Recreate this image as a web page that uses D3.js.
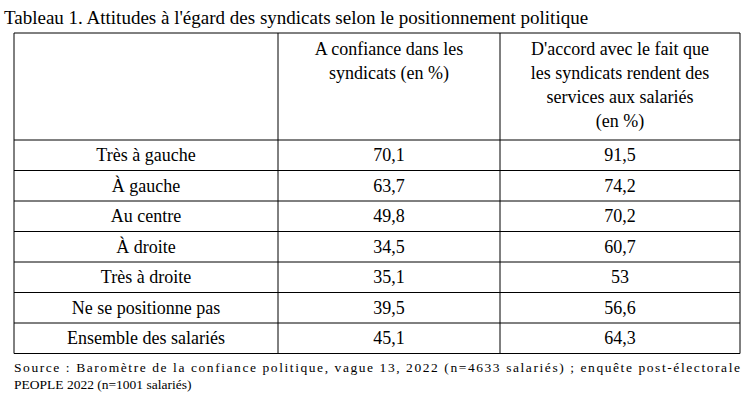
<!DOCTYPE html>
<html><head><meta charset="utf-8">
<script src="https://cdn.jsdelivr.net/npm/d3@7"></script>
<style>body{margin:0;background:#fff}</style></head>
<body><svg id="c" width="754" height="406"></svg>
<script>
(function(){
const title = "Tableau 1. Attitudes à l'égard des syndicats selon le positionnement politique";
const categories = ["Très à gauche","À gauche","Au centre","À droite","Très à droite","Ne se positionne pas","Ensemble des salariés"];
const confiance = ["70,1","63,7","49,8","34,5","35,1","39,5","45,1"];
const accord = ["91,5","74,2","70,2","60,7","53","56,6","64,3"];
const header2 = ["A confiance dans les","syndicats (en %)"];
const header3 = ["D'accord avec le fait que","les syndicats rendent des","services aux salariés","(en %)"];
const source = ["Source : Baromètre de la confiance politique, vague 13, 2022 (n=4633 salariés) ; enquête post-électorale","PEOPLE 2022 (n=1001 salariés)"];

const svg = d3.select("#c");
const font = "Liberation Serif, Times New Roman, serif";
const L=14, R=740, tableTop=33, headBottom=140, rowH=30.5;
const colX = [L, 278, 500, R];
const y = d3.scaleBand().domain(categories).range([headBottom, headBottom+rowH*categories.length]);
const bottom = y.range()[1];

svg.append("text").attr("x",4).attr("y",24).attr("font-family",font).attr("font-size",19).text(title);

const g = svg.append("g").attr("stroke","#000").attr("stroke-width",1);
[tableTop, headBottom, ...categories.slice(1).map(c=>y(c)), bottom].forEach(v=>
  g.append("line").attr("x1",L).attr("x2",R).attr("y1",v).attr("y2",v));
colX.forEach(v=>g.append("line").attr("x1",v).attr("x2",v).attr("y1",tableTop).attr("y2",bottom));

const cx = i => (colX[i]+colX[i+1])/2;
const t = svg.append("g").attr("font-family",font).attr("font-size",18).attr("text-anchor","middle");
header2.forEach((s,i)=>t.append("text").attr("x",cx(1)).attr("y",55+i*24).text(s));
header3.forEach((s,i)=>t.append("text").attr("x",cx(2)).attr("y",55+i*24).text(s));
categories.forEach((c,i)=>{
  const yy = y(c)+y.bandwidth()/2+6;
  t.append("text").attr("x",cx(0)).attr("y",yy).text(c);
  t.append("text").attr("x",cx(1)).attr("y",yy).text(confiance[i]);
  t.append("text").attr("x",cx(2)).attr("y",yy).text(accord[i]);
});
svg.append("text").attr("x",L).attr("y",372).attr("font-family",font).attr("font-size",13.5)
  .attr("textLength",R-L).attr("lengthAdjust","spacing").text(source[0]);
svg.append("text").attr("x",L).attr("y",389).attr("font-family",font).attr("font-size",13.5).text(source[1]);
})();
</script></body></html>
